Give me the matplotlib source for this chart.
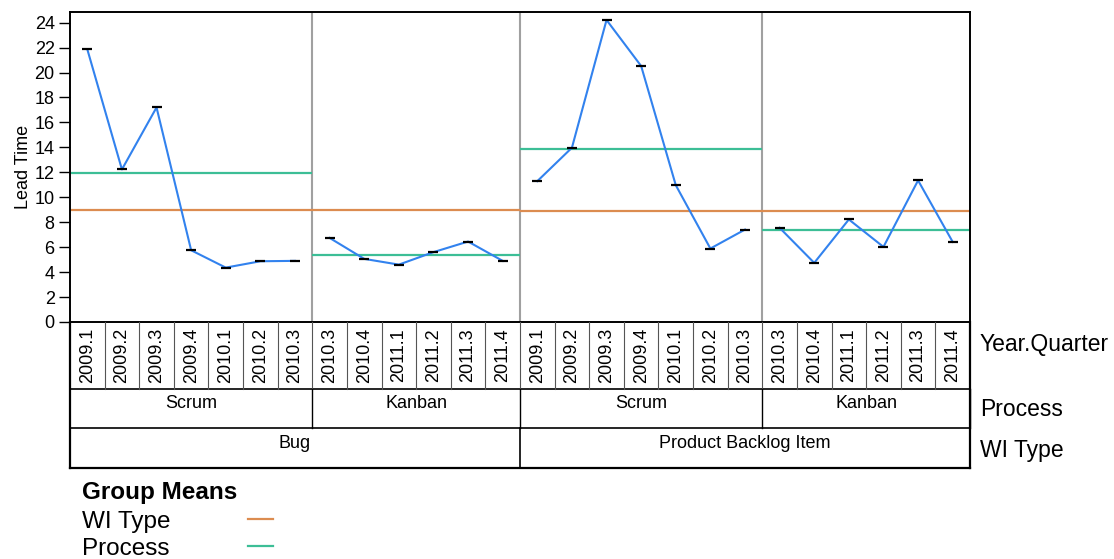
"""
Lead time by quarter, split by process (Scrum/Kanban) and work item type,
with process and WI-type group means drawn as horizontal lines.
"""
import numpy as np
import matplotlib
matplotlib.use("Agg")
import matplotlib.pyplot as plt  # noqa: E402
from matplotlib.lines import Line2D  # noqa: E402

plt.rcParams["font.family"] = ["Liberation Sans", "DejaVu Sans"]

W, H = 1114, 559
FS = 13
FS_SIDE = 16.5
FS_LEG = 17.5

wi_types = ["Bug", "Product Backlog Item"]
processes = ["Scrum", "Kanban", "Scrum", "Kanban"]
group_wi = [0, 0, 1, 1]

scrum_quarters = ["2009.1", "2009.2", "2009.3", "2009.4", "2010.1", "2010.2", "2010.3"]
kanban_quarters = ["2010.3", "2010.4", "2011.1", "2011.2", "2011.3", "2011.4"]
group_quarters = [scrum_quarters, kanban_quarters, scrum_quarters, kanban_quarters]

bug_scrum = [21.86, 12.23, 17.2, 5.75, 4.36, 4.87, 4.9]
bug_kanban = [6.74, 5.06, 4.6, 5.6, 6.45, 4.9]
pbi_scrum = [11.29, 13.97, 24.21, 20.52, 10.97, 5.89, 7.41]
pbi_kanban = [7.55, 4.74, 8.22, 6.02, 11.35, 6.42]
group_values = [bug_scrum, bug_kanban, pbi_scrum, pbi_kanban]

process_means = [11.93, 5.38, 13.88, 7.36]
wi_means = [8.96, 8.88]

yticks = list(range(0, 25, 2))

BLUE = "#3282ee"
ORANGE = "#dc8c50"
GREEN = "#3cbe96"
SEP = "#a0a0a0"


def fx(px):
    return px / W


def fy(py):
    return 1 - py / H


fig = plt.figure(figsize=(W / 100, H / 100), dpi=100)
ax = fig.add_axes([fx(70), fy(322), fx(970) - fx(70), fy(12) - fy(322)])

# group start/end indices along the category axis
starts, ends = [], []
pos = 0
for q in group_quarters:
    starts.append(pos)
    pos += len(q)
    ends.append(pos - 1)
n_cat = pos

for s, e, vals in zip(starts, ends, group_values):
    x = np.arange(s, e + 1)
    ax.plot(x, vals, color=BLUE, lw=1.5, zorder=3)
    ax.plot(x, vals, ls="none", marker="_", ms=7, mew=1.6, color="black", zorder=4)

for s, e, m in zip(starts, ends, process_means):
    ax.hlines(m, s - 0.5, e + 0.5, color=GREEN, lw=1.6, zorder=2)

for w, m in enumerate(wi_means):
    idx = [i for i, g in enumerate(group_wi) if g == w]
    ax.hlines(m, starts[idx[0]] - 0.5, ends[idx[-1]] + 0.5, color=ORANGE, lw=1.6, zorder=2)

for e in ends[:-1]:
    ax.axvline(e + 0.5, color=SEP, lw=1.5, zorder=1)

ax.set_xlim(-0.5, n_cat - 0.5)
ax.set_ylim(0, 24.85)
ax.set_xticks([])
ax.set_yticks(yticks)
ax.tick_params(axis="y", length=8, width=1, pad=3, labelsize=FS)
ax.set_ylabel("Lead Time", fontsize=FS, labelpad=2)
for sp in ax.spines.values():
    sp.set_linewidth(1.4)

# category table under the plot, in pixel units vertically
tab = fig.add_axes([fx(70), fy(468), fx(970) - fx(70), fy(322) - fy(468)])
tab.set_xlim(-0.5, n_cat - 0.5)
tab.set_ylim(146, 0)
tab.axis("off")
y_q, y_p, y_w = 0, 67, 106
x0, x1 = -0.5, n_cat - 0.5

tab.plot([x0, x1], [y_p, y_p], color="black", lw=1.2, clip_on=False)
tab.plot([x0, x1], [y_w, y_w], color="black", lw=1.2, clip_on=False)
tab.plot([x0, x1], [146, 146], color="black", lw=1.6, clip_on=False)
tab.plot([x0, x0], [0, 146], color="black", lw=1.6, clip_on=False)
tab.plot([x1, x1], [0, 146], color="black", lw=1.6, clip_on=False)

for i in range(1, n_cat):
    tab.plot([i - 0.5, i - 0.5], [0, y_p], color="#555555", lw=0.8, clip_on=False)

quarters_flat = [q for g in group_quarters for q in g]
for i, q in enumerate(quarters_flat):
    tab.text(i, y_p / 2, q, rotation=90, ha="center", va="center", fontsize=FS)

for s, e, p in zip(starts, ends, processes):
    tab.plot([e + 0.5, e + 0.5], [y_p, y_w], color="black", lw=1.0, clip_on=False)
    tab.text((s + e) / 2, y_p + 14, p, ha="center", va="center", fontsize=FS)

for w, name in enumerate(wi_types):
    idx = [i for i, g in enumerate(group_wi) if g == w]
    s, e = starts[idx[0]], ends[idx[-1]]
    if w < len(wi_types) - 1:
        tab.plot([e + 0.5, e + 0.5], [y_w, 146], color="black", lw=1.2, clip_on=False)
    tab.text((s + e) / 2, y_w + 15, name, ha="center", va="center", fontsize=FS)

fig.text(fx(980), fy(345), "Year.Quarter", ha="left", va="center", fontsize=FS_SIDE)
fig.text(fx(980), fy(410), "Process", ha="left", va="center", fontsize=FS_SIDE)
fig.text(fx(980), fy(451), "WI Type", ha="left", va="center", fontsize=FS_SIDE)

# legend
fig.text(fx(82), fy(492), "Group Means", fontweight="bold", ha="left", va="center", fontsize=FS_LEG)
fig.text(fx(82), fy(522), "WI Type", ha="left", va="center", fontsize=FS_LEG)
fig.text(fx(82), fy(549), "Process", ha="left", va="center", fontsize=FS_LEG)
fig.add_artist(Line2D([fx(248), fx(273)], [fy(519), fy(519)], color=ORANGE, lw=1.6))
fig.add_artist(Line2D([fx(248), fx(273)], [fy(546), fy(546)], color=GREEN, lw=1.6))

fig.savefig("out.png", dpi=100)
